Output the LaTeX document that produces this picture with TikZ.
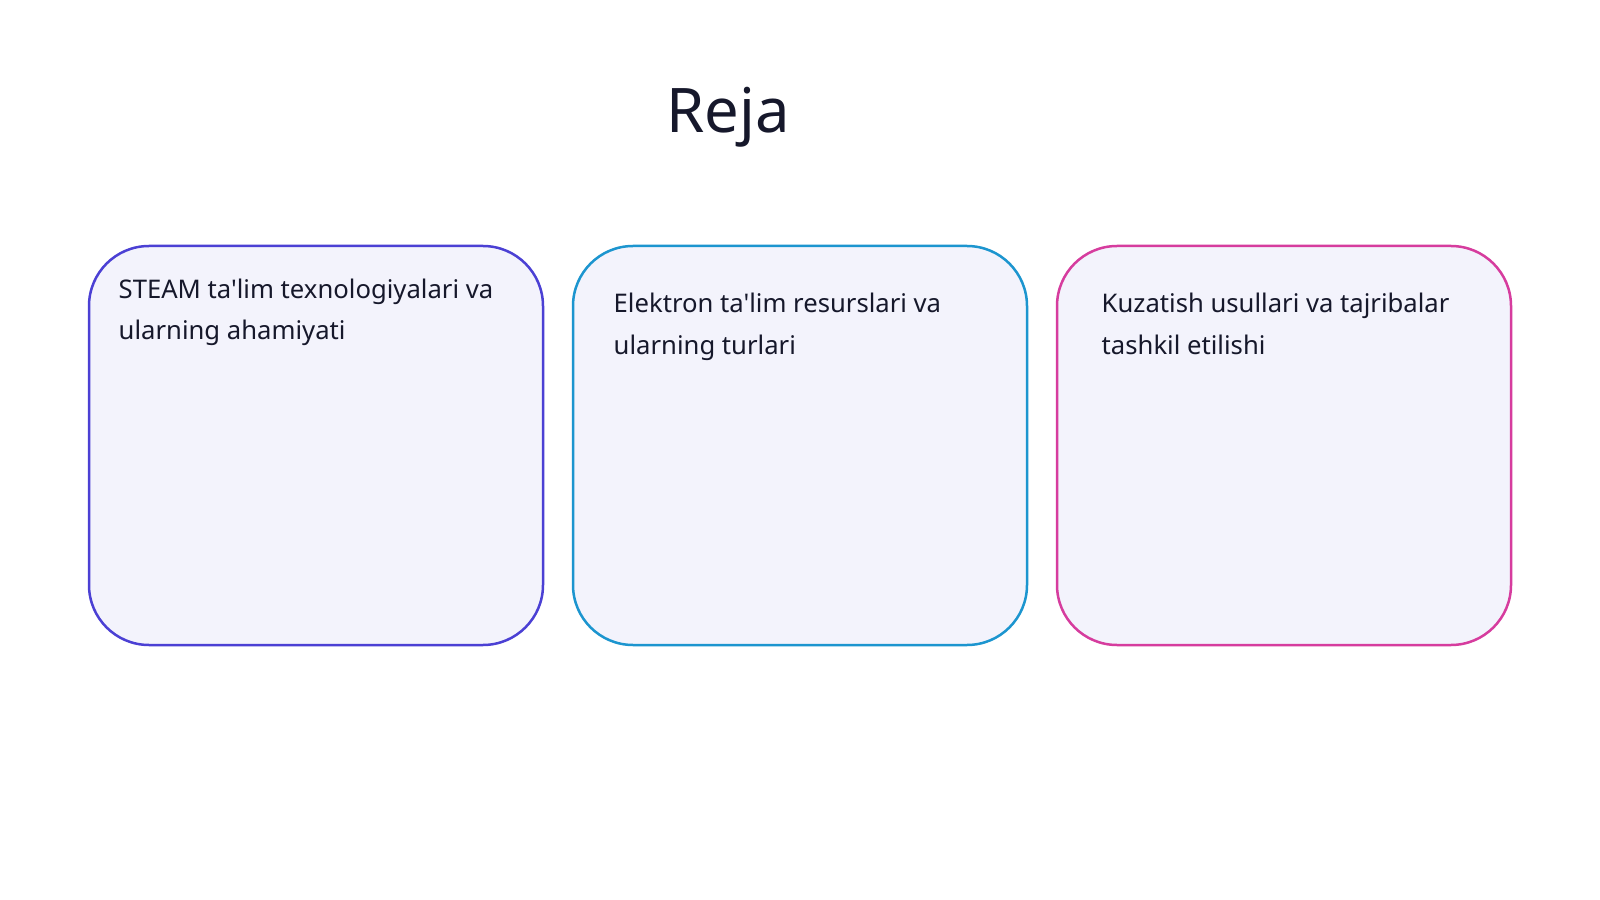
\documentclass[tikz,border=0pt]{standalone}
\usepackage{fontspec}
\setmainfont{Noto Sans}
\newfontfamily\plainnoto{Noto Sans}
\definecolor{inkc}{HTML}{16182B}
\definecolor{bordA}{HTML}{4B40D4}
\definecolor{bordB}{HTML}{1C95CF}
\definecolor{bordC}{HTML}{D63C9E}
\definecolor{cardfill}{HTML}{F3F3FC}
\tikzset{
  card/.style={draw, line width=0.25mm, fill=cardfill, rounded corners=6mm},
  cardtext/.style={anchor=base west, inner sep=0pt, align=left, text=inkc,
    font=\plainnoto\fontsize{7.3pt}{11.84pt}\selectfont},
  titletext/.style={anchor=base, inner sep=0pt, text=inkc,
    font=\plainnoto\fontsize{17.5pt}{21pt}\selectfont}
}
\begin{document}
\begin{tikzpicture}[x=0.1mm, y=-0.1mm]
\useasboundingbox[fill=white] (0,0) rectangle (1600,900);
\node[titletext] (title) at (728,133) {Reja};
\draw[card, draw=bordA] (89,246) rectangle (543,645);
\draw[card, draw=bordB] (573,246) rectangle (1027,645);
\draw[card, draw=bordC] (1057,246) rectangle (1511,645);
\node[cardtext] (t1) at (118,340) {STEAM ta'lim texnologiyalari va\\ularning ahamiyati};
\node[cardtext] (t2) at (613,354) {Elektron ta'lim resurslari va\\ularning turlari};
\node[cardtext] (t3) at (1101,354) {Kuzatish usullari va tajribalar\\tashkil etilishi};
\end{tikzpicture}
\end{document}
